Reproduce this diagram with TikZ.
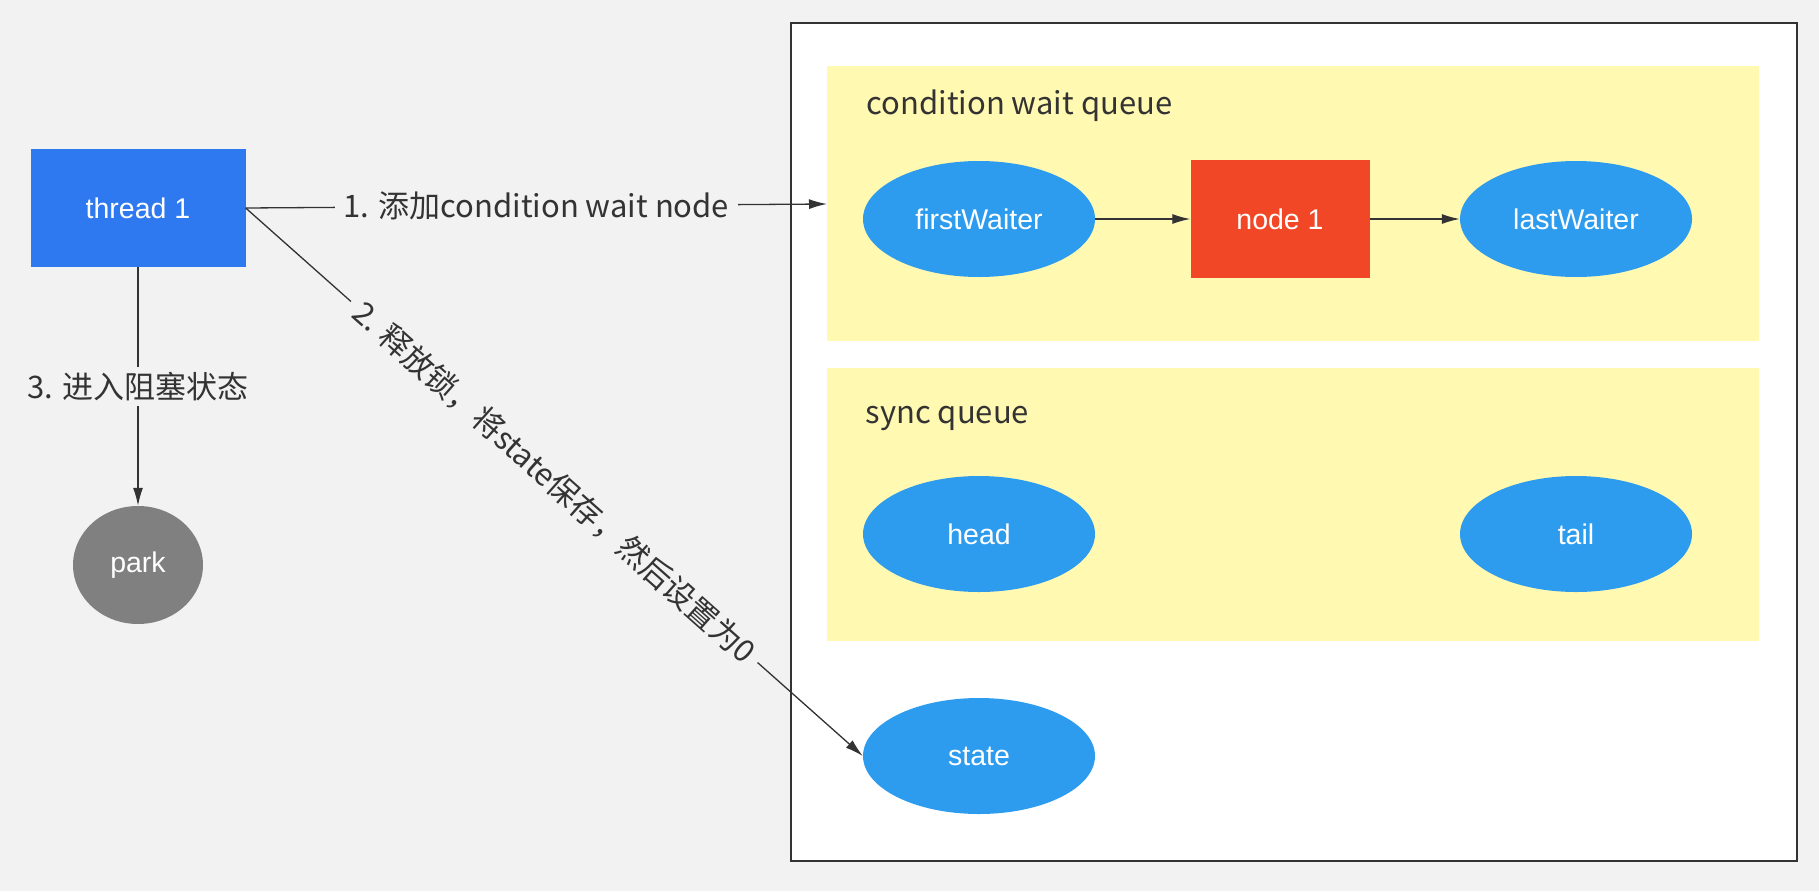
\documentclass[tikz,border=0pt]{standalone}
\usepackage{fontspec}
\setmainfont{Liberation Sans}
\newfontfamily\cjk{Noto Sans CJK SC}
\usetikzlibrary{shapes.geometric,arrows.meta}
\definecolor{bggray}{HTML}{F2F2F2}
\definecolor{queueyellow}{HTML}{FFF9B1}
\definecolor{threadblue}{HTML}{2E78F0}
\definecolor{waiterblue}{HTML}{2D9CEF}
\definecolor{noded}{HTML}{F24726}
\definecolor{parkgray}{HTML}{808080}
\definecolor{ink}{HTML}{333333}
\begin{document}
\begin{tikzpicture}[x=1pt,y=-1pt,>={Latex[length=18pt,width=10pt]},
    nodetext/.style={text=white,font=\fontsize{28.5}{34}\selectfont},
    waiter/.style={ellipse,fill=waiterblue,nodetext,minimum width=232pt,minimum height=116pt,inner sep=0pt},
    steplabel/.style={fill=bggray,text=ink,font=\cjk\fontsize{31}{38}\selectfont,inner xsep=9pt,inner ysep=5pt},
    qtitle/.style={anchor=west,text=ink,font=\cjk\fontsize{31}{38}\selectfont},
    link/.style={->,draw=ink,line width=1.3pt}]
    % canvas
    \fill[bggray] (0,0) rectangle (1819,891);
    \useasboundingbox (0,0) rectangle (1819,891);
    % lock object
    \draw[ink,fill=white,line width=2pt] (791,23) rectangle (1797,861);
    \fill[queueyellow] (827,66) rectangle (1759,341);
    \fill[queueyellow] (827,368) rectangle (1759,641);
    \node[qtitle] (condtitle) at (863,106) {condition wait queue};
    \node[qtitle] (synctitle) at (862,418) {sync queue};
    % condition queue
    \node[waiter] (first) at (979,219) {firstWaiter};
    \node[rectangle,fill=noded,nodetext,minimum width=179pt,minimum height=118pt] (node1) at (1280,219) {node 1};
    \node[waiter] (last) at (1576,219) {lastWaiter};
    \draw[link] (first.east) -- (node1.west);
    \draw[link] (node1.east) -- (last.west);
    % sync queue
    \node[waiter] (head) at (979,534) {head};
    \node[waiter] (tail) at (1576,534) {tail};
    \node[waiter] (state) at (979,756) {state};
    % thread
    \node[rectangle,fill=threadblue,nodetext,minimum width=215pt,minimum height=118pt] (thread) at (138,208) {thread 1};
    \node[ellipse,fill=parkgray,nodetext,minimum width=130pt,minimum height=118pt,inner sep=0pt] (park) at (138,565) {park};
    \coordinate (condin) at (827,204);
    \draw[link] (thread.east) -- node[steplabel] {1. 添加condition wait node} (condin);
    \draw[link] (thread.east) -- node[steplabel,sloped] {2. 释放锁，将state保存，然后设置为0} (state.west);
    \draw[link] (thread.south) -- node[steplabel] {3. 进入阻塞状态} (park.north);
\end{tikzpicture}
\end{document}
